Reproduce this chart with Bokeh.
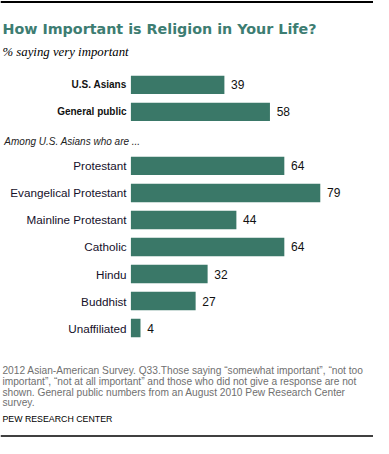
from bokeh.plotting import figure
from bokeh.models import Range1d, Label, ColumnDataSource
from bokeh.core.properties import value
from bokeh.embed import file_html
from bokeh.resources import INLINE

# ---- data ----
categories = ["U.S. Asians", "General public", "Protestant", "Evangelical Protestant",
              "Mainline Protestant", "Catholic", "Hindu", "Buddhist", "Unaffiliated"]
values = [39, 58, 64, 79, 44, 64, 32, 27, 4]
rows = [0, 1, 3, 4, 5, 6, 7, 8, 9]
bold_labels = ["U.S. Asians", "General public"]

W, H = 373, 438
SX, SY = W / 389, H / 454
PX = 2.5 * SX          # pixels per percentage point
X0 = 136 * SX          # pixel of zero
ROW = 28 * SY          # pixels per row
Y0 = 87.5 * SY         # pixel center of first row
XMIN, XMAX = -X0 / PX, (W - X0) / PX

p = figure(width=W, height=H, output_backend="svg", toolbar_location=None,
           x_range=Range1d(XMIN, XMAX),
           y_range=Range1d((H - Y0) / ROW, -Y0 / ROW),
           min_border=0)
p.axis.visible = False
p.xgrid.visible = False
p.ygrid.visible = False
p.outline_line_color = None
p.background_fill_color = "white"

def fy(py):
    """figure pixel (from top) -> row coordinate"""
    return (py - Y0) / ROW

src = ColumnDataSource(dict(
    y=rows, v=values, cat=categories,
    lx=[v + 2.8 for v in values],
    lab=[str(v) for v in values],
))
p.hbar(y="y", left=0, right="v", height=19 * SY / ROW, source=src,
       fill_color="#3a7868", line_color=None)
p.text(x="lx", y="y", text="lab", source=src, text_font=value("Liberation Sans"),
       text_font_size="12px", text_baseline="middle", text_color="#111111")

plain = ColumnDataSource(dict(
    y=[r for r, c in zip(rows, categories) if c not in bold_labels],
    cat=[c for c in categories if c not in bold_labels]))
boldsrc = ColumnDataSource(dict(
    y=[r for r, c in zip(rows, categories) if c in bold_labels],
    cat=[c for c in categories if c in bold_labels]))
p.text(x=-1.8, y="y", text="cat", source=plain, text_font=value("Liberation Sans"),
       text_font_size="11.7px", text_align="right", text_baseline="middle",
       text_color="#15102a")
p.text(x=-1.8, y="y", text="cat", source=boldsrc, text_font=value("Liberation Sans"),
       text_font_size="10px", text_font_style="bold", text_align="right",
       text_baseline="middle", text_color="#111111")

def label(txt, x, y, size, color="#000000", font="Liberation Sans", style="normal"):
    p.add_layout(Label(x=x * SX, y=H - y * SY, x_units="screen", y_units="screen", text=txt,
                       text_font=font, text_font_size=size, text_color=color,
                       text_font_style=style, text_baseline="alphabetic"))

label("How Important is Religion in Your Life?", 2, 29.3, "14.3px", "#3d7d72",
      "DejaVu Sans", "bold")
label("% saying very important", 2, 53, "12.8px", "#000000", "Liberation Serif", "italic")
label("Among U.S. Asians who are ...", 4, 146, "10px", "#222222", "Liberation Sans", "italic")

foot = ["2012 Asian-American Survey.  Q33.Those saying \u201csomewhat important\u201d, \u201cnot too",
        "important\u201d, \u201cnot at all important\u201d and those who did not give a response are not",
        "shown. General public numbers from an August 2010 Pew Research Center",
        "survey."]
for i, t in enumerate(foot):
    label(t, 2, 384 + 11 * i, "10.2px", "#707070", "Liberation Sans")
label("PEW RESEARCH  CENTER", 2, 434, "8.8px", "#000000", "Liberation Sans")

# top and bottom rules
p.segment(x0=[XMIN, XMIN], x1=[XMAX, XMAX], y0=[fy(1.5), fy(435.6)], y1=[fy(1.5), fy(435.6)],
          line_color="#000000", line_width=[2, 1.5])

open("out.html", "w").write(file_html(p, INLINE))
